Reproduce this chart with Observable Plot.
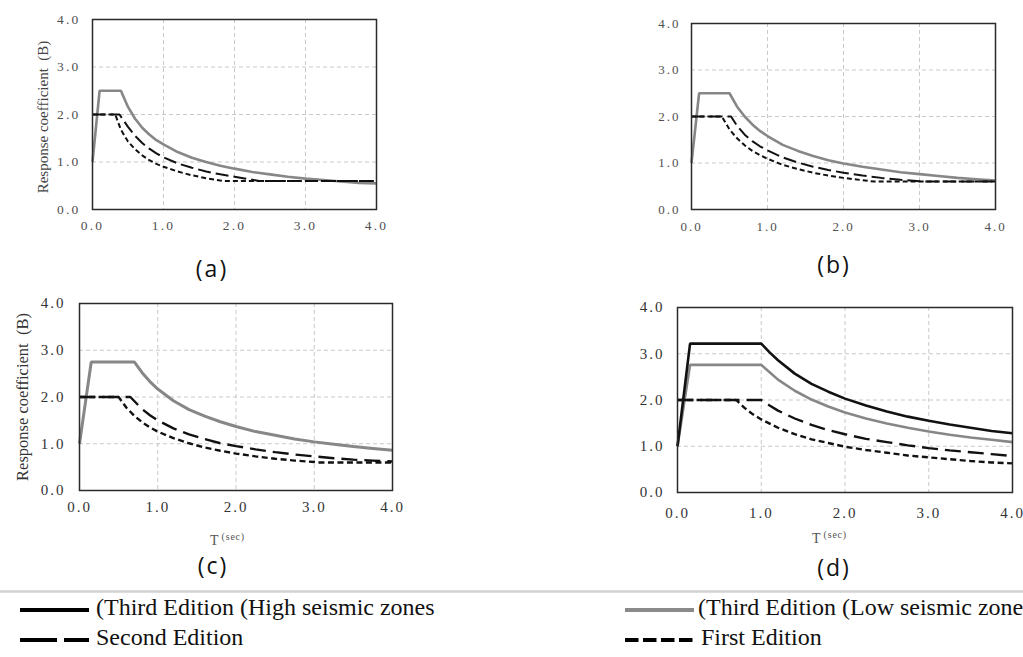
<!DOCTYPE html>
<html><head><meta charset="utf-8">
<script src="https://cdn.jsdelivr.net/npm/d3@7"></script>
<script src="https://cdn.jsdelivr.net/npm/@observablehq/plot@0.6"></script>
<style>
html,body{margin:0;padding:0;background:#fff;}
body{width:1023px;height:657px;position:relative;overflow:hidden;}
.panel{position:absolute;}
#overlay{position:absolute;left:0;top:0;}
</style>
</head><body>
<div id="pa" class="panel"></div>
<div id="pb" class="panel"></div>
<div id="pc" class="panel"></div>
<div id="pd" class="panel"></div>
<svg id="overlay" width="1023" height="657"></svg>
<script>
// ---- axis ticks ----
const axisTicks = [0, 1, 2, 3, 4];
const axisTickLabels = ["0.0", "1.0", "2.0", "3.0", "4.0"];
const gridTicks = [1, 2, 3];

// ---- text ----
const panelLabels = ["(a)", "(b)", "(c)", "(d)"];
const yAxisTitle = "Response coefficient  (B)";
const xAxisTitle = "T";
const xAxisUnit = "(sec)";
const legendLabels = ["(Third Edition (High seismic zones", "(Third Edition (Low seismic zone", "Second Edition", "First Edition"];

// ---- panel (a): [T (sec), B] ----
const a_thirdLow = [[0,1.0],[0.1,2.5],[0.4,2.5],[0.5,2.16],[0.6,1.91],[0.7,1.72],[0.8,1.58],[0.9,1.46],[1.0,1.37],[1.2,1.21],[1.4,1.09],[1.6,1.0],[1.8,0.92],[2.0,0.86],[2.25,0.79],[2.5,0.74],[2.75,0.69],[3.0,0.65],[3.25,0.62],[3.5,0.59],[3.75,0.56],[4.0,0.55]];
const a_second = [[0,2.0],[0.38,2.0],[0.5,1.74],[0.6,1.55],[0.7,1.4],[0.8,1.28],[0.9,1.18],[1.0,1.1],[1.2,0.97],[1.4,0.88],[1.6,0.8],[1.8,0.74],[2.0,0.69],[2.2,0.64],[2.35,0.6],[4.0,0.6]];
const a_first = [[0,2.0],[0.32,2.0],[0.4,1.68],[0.5,1.43],[0.6,1.27],[0.7,1.14],[0.8,1.04],[0.9,0.96],[1.0,0.9],[1.2,0.8],[1.4,0.72],[1.6,0.66],[1.8,0.61],[1.85,0.6],[4.0,0.6]];

// ---- panel (b) ----
const b_thirdLow = [[0,1.0],[0.1,2.5],[0.5,2.5],[0.6,2.21],[0.7,2.0],[0.8,1.83],[0.9,1.69],[1.0,1.58],[1.2,1.39],[1.4,1.26],[1.6,1.15],[1.8,1.06],[2.0,0.99],[2.25,0.92],[2.5,0.86],[2.75,0.8],[3.0,0.76],[3.25,0.72],[3.5,0.68],[3.75,0.65],[4.0,0.62]];
const b_second = [[0,2.0],[0.52,2.0],[0.6,1.8],[0.7,1.61],[0.8,1.47],[0.9,1.36],[1.0,1.27],[1.2,1.12],[1.4,1.01],[1.6,0.92],[1.8,0.85],[2.0,0.79],[2.25,0.73],[2.5,0.68],[2.75,0.64],[3.0,0.61],[3.05,0.6],[4.0,0.6]];
const b_first = [[0,2.0],[0.4,2.0],[0.5,1.72],[0.6,1.53],[0.7,1.38],[0.8,1.26],[0.9,1.17],[1.0,1.09],[1.2,0.96],[1.4,0.87],[1.6,0.79],[1.8,0.73],[2.0,0.68],[2.25,0.63],[2.4,0.6],[4.0,0.6]];

// ---- panel (c) ----
const c_thirdLow = [[0,1.0],[0.15,2.75],[0.7,2.75],[0.8,2.52],[0.9,2.33],[1.0,2.17],[1.2,1.92],[1.4,1.73],[1.6,1.59],[1.8,1.47],[2.0,1.37],[2.25,1.26],[2.5,1.18],[2.75,1.1],[3.0,1.04],[3.25,0.99],[3.5,0.94],[3.75,0.9],[4.0,0.86]];
const c_second = [[0,2.0],[0.65,2.0],[0.8,1.74],[0.9,1.61],[1.0,1.5],[1.2,1.33],[1.4,1.2],[1.6,1.1],[1.8,1.01],[2.0,0.95],[2.25,0.88],[2.5,0.82],[2.75,0.77],[3.0,0.73],[3.25,0.69],[3.5,0.66],[3.75,0.64],[4.0,0.62]];
const c_first = [[0,2.0],[0.5,2.0],[0.6,1.77],[0.7,1.6],[0.8,1.46],[0.9,1.35],[1.0,1.26],[1.2,1.12],[1.4,1.01],[1.6,0.92],[1.8,0.85],[2.0,0.79],[2.25,0.73],[2.5,0.68],[2.75,0.64],[3.0,0.61],[3.05,0.6],[4.0,0.6]];

// ---- panel (d) ----
const d_thirdHigh = [[0,1.0],[0.15,3.22],[1.0,3.22],[1.1,3.03],[1.2,2.86],[1.4,2.57],[1.6,2.35],[1.8,2.18],[2.0,2.03],[2.25,1.88],[2.5,1.75],[2.75,1.64],[3.0,1.55],[3.25,1.47],[3.5,1.4],[3.75,1.33],[4.0,1.28]];
const d_thirdLow = [[0,1.0],[0.15,2.76],[1.0,2.76],[1.1,2.6],[1.2,2.44],[1.4,2.2],[1.6,2.01],[1.8,1.86],[2.0,1.73],[2.25,1.6],[2.5,1.49],[2.75,1.4],[3.0,1.32],[3.25,1.25],[3.5,1.19],[3.75,1.14],[4.0,1.09]];
const d_second = [[0,2.0],[1.0,2.0],[1.1,1.88],[1.2,1.77],[1.4,1.6],[1.6,1.46],[1.8,1.35],[2.0,1.26],[2.25,1.16],[2.5,1.09],[2.75,1.02],[3.0,0.96],[3.25,0.91],[3.5,0.87],[3.75,0.83],[4.0,0.79]];
const d_first = [[0,2.0],[0.7,2.0],[0.8,1.83],[0.9,1.69],[1.0,1.58],[1.2,1.4],[1.4,1.26],[1.6,1.15],[1.8,1.07],[2.0,0.99],[2.25,0.92],[2.5,0.86],[2.75,0.8],[3.0,0.76],[3.25,0.72],[3.5,0.68],[3.75,0.65],[4.0,0.63]];

const GRAY = "#878787";
const BLACK = "#111";

function makePanel(id, cfg) {
  const fmt = d => axisTickLabels[axisTicks.indexOf(d)];
  const marks = [
    Plot.gridX(gridTicks, {stroke: "#c9c9c9", strokeOpacity: 1, strokeWidth: 1, strokeDasharray: "4,3"}),
    Plot.gridY(gridTicks, {stroke: "#c9c9c9", strokeOpacity: 1, strokeWidth: 1, strokeDasharray: "4,3"}),
    Plot.axisX(axisTicks, {tickSize: 0, tickPadding: cfg.padX, tickFormat: fmt, fontSize: cfg.font, color: cfg.tickColor, label: null}),
    Plot.axisY(axisTicks, {tickSize: 0, tickPadding: cfg.padY, tickFormat: fmt, fontSize: cfg.font, color: cfg.tickColor, label: null}),
    ...cfg.series.map(s => Plot.line(s.data, {
      x: d => d[0], y: d => d[1],
      stroke: s.stroke, strokeWidth: s.width,
      strokeDasharray: s.dash || null, strokeLinejoin: "miter", strokeLinecap: "butt"
    })),
    Plot.frame({stroke: "#2a2a2a", strokeWidth: 1.5})
  ];
  const svg = Plot.plot({
    width: cfg.width, height: cfg.height,
    marginLeft: cfg.ml, marginRight: cfg.mr, marginTop: cfg.mt, marginBottom: cfg.mb,
    x: {domain: [0, 4]}, y: {domain: [0, 4]},
    style: {fontFamily: '"Liberation Serif", "Times New Roman", serif', letterSpacing: cfg.ls + "px", background: "transparent", overflow: "visible"},
    marks
  });
  const el = document.getElementById(id);
  el.style.left = cfg.left + "px";
  el.style.top = cfg.top + "px";
  el.appendChild(svg);
}

const LONG_S = "13,5", SHORT_S = "5,3";
const LONG_L = "16,7", SHORT_L = "6,3.5";

makePanel("pa", {left: 0, top: 0, width: 420, height: 240, ml: 92, mr: 44, mt: 19, mb: 31,
  font: 13.5, ls: 2.2, padX: 11, padY: 12, tickColor: "#505050",
  series: [
    {data: a_thirdLow, stroke: GRAY, width: 2.6},
    {data: a_first, stroke: BLACK, width: 2, dash: SHORT_S},
    {data: a_second, stroke: BLACK, width: 2, dash: LONG_S}
  ]});

makePanel("pb", {left: 560, top: 0, width: 463, height: 240, ml: 131, mr: 28, mt: 23, mb: 31,
  font: 13, ls: 2, padX: 12, padY: 11, tickColor: "#505050",
  series: [
    {data: b_thirdLow, stroke: GRAY, width: 2.6},
    {data: b_first, stroke: BLACK, width: 2, dash: SHORT_S},
    {data: b_second, stroke: BLACK, width: 2, dash: LONG_S}
  ]});

makePanel("pc", {left: 0, top: 280, width: 440, height: 245, ml: 79, mr: 48, mt: 23, mb: 35,
  font: 15, ls: 2, padX: 11, padY: 14, tickColor: "#333",
  series: [
    {data: c_thirdLow, stroke: GRAY, width: 3},
    {data: c_first, stroke: BLACK, width: 2.4, dash: SHORT_L},
    {data: c_second, stroke: BLACK, width: 2.4, dash: LONG_L}
  ]});

makePanel("pd", {left: 590, top: 280, width: 433, height: 245, ml: 87, mr: 11, mt: 27, mb: 33,
  font: 15, ls: 2, padX: 15, padY: 13, tickColor: "#333",
  series: [
    {data: d_thirdLow, stroke: GRAY, width: 2.6},
    {data: d_first, stroke: BLACK, width: 2.4, dash: SHORT_L},
    {data: d_second, stroke: BLACK, width: 2.4, dash: LONG_L},
    {data: d_thirdHigh, stroke: BLACK, width: 2.6}
  ]});

// ---- overlay: captions, axis titles, separator, legend ----
const ov = d3.select("#overlay");
const serif = '"Liberation Serif", "Times New Roman", serif';
const sans = '"Open Sans", "Noto Sans", sans-serif';

const capPos = [[212, 277], [834, 273], [213, 574], [834, 576]];
panelLabels.forEach((t, i) => {
  ov.append("text").attr("x", capPos[i][0]).attr("y", capPos[i][1])
    .attr("text-anchor", "middle").attr("font-family", sans).attr("font-size", 23)
    .attr("letter-spacing", 2).attr("fill", "#111").text(t);
});

// y titles (panels a and c)
[[48, 117, 15, "#444"], [28, 397, 16.5, "#333"]].forEach(([x, y, fs, col]) => {
  ov.append("text").attr("transform", `translate(${x},${y}) rotate(-90)`)
    .attr("text-anchor", "middle").attr("font-family", serif).attr("font-size", fs)
    .attr("fill", col).style("white-space", "pre").text(yAxisTitle);
});

// x titles (panels c and d)
[[210, 545], [812, 543]].forEach(([x, y]) => {
  const t = ov.append("text").attr("x", x).attr("y", y).attr("font-family", serif)
    .attr("font-size", 14).attr("letter-spacing", 1).attr("fill", "#555");
  t.append("tspan").text(xAxisTitle);
  t.append("tspan").attr("dx", 2).attr("dy", -5).attr("font-size", 10).attr("letter-spacing", 0.8).text(xAxisUnit);
});

// separator
ov.append("line").attr("x1", 0).attr("x2", 1023).attr("y1", 591.5).attr("y2", 591.5)
  .attr("stroke", "#d2d2d2").attr("stroke-width", 2.5);

// legend
const legendItems = [
  {label: legendLabels[0], x: 20, tx: 96, y: 610, stroke: "#000", dash: null},
  {label: legendLabels[1], x: 625, tx: 698, y: 610, stroke: "#8a8a8a", dash: null},
  {label: legendLabels[2], x: 20, tx: 96, y: 640, stroke: "#000", dash: "37,7"},
  {label: legendLabels[3], x: 625, tx: 701, y: 640, stroke: "#000", dash: "13.5,4.5"}
];
legendItems.forEach(it => {
  ov.append("line").attr("x1", it.x).attr("x2", it.x + 69).attr("y1", it.y).attr("y2", it.y)
    .attr("stroke", it.stroke).attr("stroke-width", 4).attr("stroke-dasharray", it.dash);
  ov.append("text").attr("x", it.tx).attr("y", it.y + 5).attr("font-family", serif)
    .attr("font-size", 24).attr("fill", "#111").text(it.label);
});
</script>
</body></html>
